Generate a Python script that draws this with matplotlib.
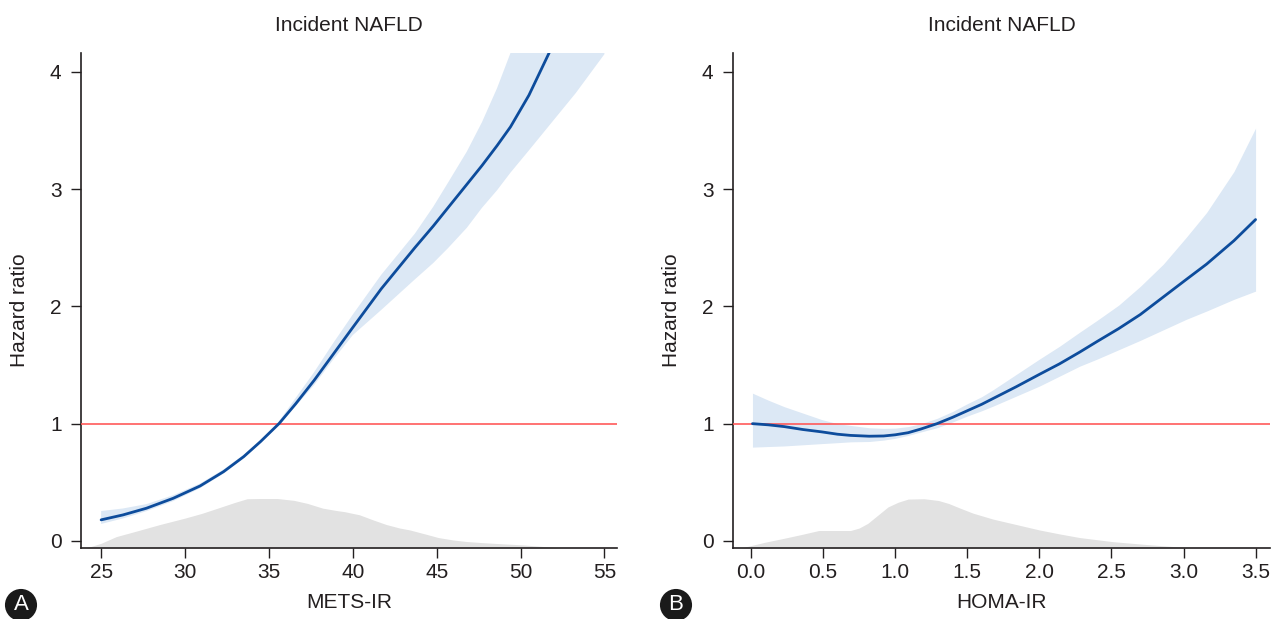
import matplotlib
matplotlib.use("Agg")
import matplotlib.pyplot as plt
from matplotlib import font_manager

# ---------------- data ----------------
# Panel A: METS-IR (spline hazard ratio with 95% CI, and distribution)
mets_x = [25, 26.3, 27.7, 29.3, 30.9, 32.3, 33.5, 34.5, 35.6, 36.6, 37.7, 38.8, 40.0,
          41.7, 43.7, 44.8, 45.7, 46.8, 47.7, 48.6, 49.4, 50.5, 51.7, 53.3, 55]
mets_hr = [0.18, 0.222, 0.279, 0.364, 0.469, 0.591, 0.719, 0.847, 1.00, 1.17, 1.37, 1.585, 1.82,
           2.15, 2.50, 2.685, 2.845, 3.04, 3.20, 3.37, 3.53, 3.80, 4.16, 4.65, 5.25]
mets_hi = [0.255, 0.277, 0.314, 0.39, 0.49, 0.61, 0.735, 0.86, 1.02, 1.22, 1.44, 1.68, 1.93,
           2.27, 2.62, 2.85, 3.06, 3.32, 3.57, 3.86, 4.16, 4.50, 4.85, 5.50, 6.30]
mets_lo = [0.145, 0.192, 0.254, 0.34, 0.45, 0.575, 0.705, 0.835, 0.985, 1.15, 1.33, 1.54, 1.755,
           1.97, 2.23, 2.37, 2.50, 2.67, 2.84, 2.99, 3.14, 3.33, 3.54, 3.82, 4.15]
mets_dens_x = [24.1, 25.0, 25.9, 27.0, 28.5, 30.0, 31.0, 32.1, 33.0, 33.7, 34.5, 35.5, 36.5, 37.3,
               38.2, 39.0, 39.5, 40.4, 41.2, 42.0, 42.8, 43.4, 44.3, 45.1, 46.0, 46.8, 47.7,
               49.0, 50.2, 51.6, 52.4]
mets_dens = [-0.06, -0.02, 0.037, 0.08, 0.14, 0.195, 0.235, 0.287, 0.33, 0.36, 0.362, 0.362,
             0.346, 0.32, 0.28, 0.26, 0.25, 0.223, 0.18, 0.14, 0.11, 0.094, 0.06, 0.029, 0.008,
             -0.005, -0.014, -0.025, -0.034, -0.05, -0.06]
mets_ticks = [25, 30, 35, 40, 45, 50, 55]

# Panel B: HOMA-IR
homa_x = [0.01, 0.12, 0.23, 0.36, 0.49, 0.6, 0.69, 0.82, 0.92, 1.0, 1.09, 1.18, 1.29, 1.4, 1.5,
          1.6, 1.68, 1.84, 2.0, 2.14, 2.28, 2.4, 2.55, 2.7, 2.86, 3.02, 3.16, 3.35, 3.5]
homa_hr = [1.00, 0.99, 0.975, 0.95, 0.93, 0.91, 0.90, 0.893, 0.895, 0.905, 0.923, 0.955, 1.0,
           1.055, 1.11, 1.165, 1.215, 1.315, 1.42, 1.51, 1.61, 1.70, 1.81, 1.93, 2.08, 2.23,
           2.36, 2.56, 2.74]
homa_hi = [1.26, 1.20, 1.145, 1.09, 1.035, 1.0, 0.985, 0.965, 0.96, 0.962, 0.975, 1.0, 1.045,
           1.105, 1.17, 1.23, 1.29, 1.42, 1.55, 1.66, 1.78, 1.88, 2.01, 2.17, 2.36, 2.59, 2.80,
           3.15, 3.52]
homa_lo = [0.80, 0.805, 0.81, 0.82, 0.83, 0.838, 0.845, 0.848, 0.86, 0.875, 0.90, 0.93, 0.965,
           1.015, 1.065, 1.11, 1.15, 1.235, 1.32, 1.405, 1.49, 1.55, 1.63, 1.71, 1.80, 1.89,
           1.96, 2.06, 2.13]
homa_dens_x = [-0.07, 0.1, 0.23, 0.35, 0.47, 0.6, 0.69, 0.75, 0.81, 0.88, 0.95, 1.02, 1.09, 1.2,
               1.3, 1.37, 1.45, 1.54, 1.68, 1.84, 2.0, 2.14, 2.28, 2.51, 2.73, 3.02]
homa_dens = [-0.06, -0.01, 0.023, 0.055, 0.089, 0.089, 0.089, 0.11, 0.15, 0.22, 0.29, 0.33,
             0.357, 0.36, 0.345, 0.32, 0.28, 0.237, 0.186, 0.14, 0.094, 0.06, 0.029, -0.006,
             -0.029, -0.056]
homa_ticks = [0.0, 0.5, 1.0, 1.5, 2.0, 2.5, 3.0, 3.5]
homa_ticklabels = ["0.0", "0.5", "1.0", "1.5", "2.0", "2.5", "3.0", "3.5"]

y_ticks = [0, 1, 2, 3, 4]
title_text = "Incident NAFLD"
ylabel_text = "Hazard ratio"

# ---------------- style ----------------
names = {f.name for f in font_manager.fontManager.ttflist}
fam = "Liberation Sans Narrow" if "Liberation Sans Narrow" in names else "Liberation Sans"
plt.rcParams['font.family'] = [fam, 'DejaVu Sans']

DARK = "#231f20"
BAND = "#dce8f5"
LINE = "#0d4c9c"
RED = "#ff5a5a"
GREY = "#e2e2e2"
FS = 15

W, H = 1279, 619
fig = plt.figure(figsize=(W / 100, H / 100), dpi=100)

def px_axes(l, r, b, t):
    return [l / W, 1 - b / H, (r - l) / W, (b - t) / H]

panels = [
    dict(rect=px_axes(81, 617, 548, 53), x=mets_x, hr=mets_hr, lo=mets_lo, hi=mets_hi,
         dx=mets_dens_x, dy=mets_dens, xlim=(23.8, 55.75), ticks=mets_ticks,
         ticklabels=[str(t) for t in mets_ticks], xlabel="METS-IR", tag="A"),
    dict(rect=px_axes(733, 1270, 548, 53), x=homa_x, hr=homa_hr, lo=homa_lo, hi=homa_hi,
         dx=homa_dens_x, dy=homa_dens, xlim=(-0.125, 3.6), ticks=homa_ticks,
         ticklabels=homa_ticklabels, xlabel="HOMA-IR", tag="B"),
]

ybot, ytop = -0.06, 4.16
for p in panels:
    ax = fig.add_axes(p["rect"])
    ax.fill_between(p["dx"], ybot, p["dy"], color=GREY, lw=0, zorder=1)
    ax.fill_between(p["x"], p["lo"], p["hi"], color=BAND, lw=0, zorder=2)
    ax.axhline(1, color=RED, lw=1.2, zorder=3)
    ax.plot(p["x"], p["hr"], color=LINE, lw=2.0, zorder=4, solid_capstyle='round',
            solid_joinstyle='round')
    ax.set_xlim(*p["xlim"])
    ax.set_ylim(ybot, ytop)
    ax.set_xticks(p["ticks"])
    ax.set_xticklabels(p["ticklabels"])
    ax.set_yticks(y_ticks)
    for s in ("top", "right"):
        ax.spines[s].set_visible(False)
    for s in ("left", "bottom"):
        ax.spines[s].set_color(DARK)
        ax.spines[s].set_linewidth(1.2)
    ax.tick_params(axis='x', direction='out', length=7, width=1.0, color=DARK,
                   labelsize=FS, labelcolor=DARK, pad=4)
    ax.tick_params(axis='y', direction='out', length=7, width=1.0, color=DARK,
                   labelsize=FS, labelcolor=DARK, pad=7)
    ax.text(0.5, 1 + 22 / 495, title_text, transform=ax.transAxes, ha='center',
            va='baseline', fontsize=FS, color=DARK)
    ax.text(0.5, -60 / 495, p["xlabel"], transform=ax.transAxes, ha='center',
            va='baseline', fontsize=FS, color=DARK)
    ax.text(-61 / 536, (548 - 310) / 495, ylabel_text, transform=ax.transAxes,
            ha='center', va='center', rotation=90, fontsize=FS, color=DARK)
    cx = 21 if p["tag"] == "A" else 676
    fig.text(cx / W, 1 - 605 / H, p["tag"], ha='center', va='center', color='white',
             fontsize=16, bbox=dict(boxstyle='circle,pad=0.25', fc='#1a1a1a', ec='none'))

fig.savefig("out.png", dpi=100)
